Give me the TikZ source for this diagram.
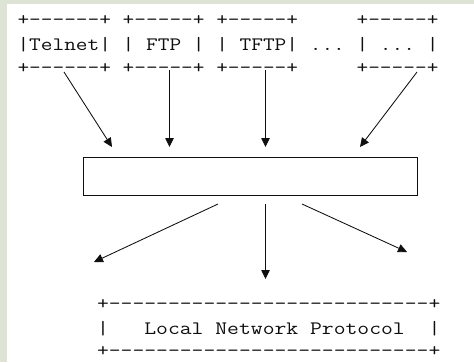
\documentclass[tikz,border=0pt]{standalone}
\usepackage{fontspec}
\usetikzlibrary{arrows.meta}
\definecolor{bgside}{RGB}{221,228,213}
\definecolor{ink}{RGB}{15,15,15}
\tikzset{
  asc/.style={anchor=base west, inner sep=0pt, outer sep=0pt, text=ink, transform shape},
  topfont/.style={font=\ttfamily\fontsize{19}{20}\selectfont, xscale=1.195},
  botfont/.style={font=\ttfamily\fontsize{19}{20}\selectfont, xscale=1.21},
  arr/.style={draw=ink, line width=0.85pt, -{Triangle[length=9pt,width=8.5pt]}},
  midbox/.style={draw=ink, line width=1pt, minimum width=334pt, minimum height=38pt, inner sep=0pt}
}
\begin{document}
\begin{tikzpicture}[x=1pt,y=-1pt]
\useasboundingbox (0,0) rectangle (474,362);
\fill[bgside] (0,0) rectangle (474,362);
\fill[white] (7,4) rectangle (474,362);

% top ASCII boxes
\node[asc,topfont] (t1) at (17.5,25.5) {+------+~+-----+~+-----+~~~~~+-----+};
\node[asc,topfont] (t2) at (17.5,50.6) {|Telnet|~|~FTP~|~|~TFTP|~...~|~...~|};
\node[asc,topfont] (t3) at (17.5,73.0) {+------+~+-----+~+-----+~~~~~+-----+};

% middle box
\node[midbox] (mid) at (250,176) {};

% bottom ASCII box
\node[asc,botfont] (b1) at (97,309.8) {+---------------------------+};
\node[asc,botfont] (b2) at (97,334.5) {|~~~Local~Network~Protocol~~|};
\node[asc,botfont] (b3) at (97,356.8) {+---------------------------+};

% arrow end points
\coordinate (s1) at (64,72);
\coordinate (s2) at (169.5,70);
\coordinate (s3) at (265.5,70);
\coordinate (s4) at (417,72);
\coordinate (e1) at (112,147);
\coordinate (e2) at (169.5,147);
\coordinate (e3) at (265.5,147);
\coordinate (e4) at (360,147);

\coordinate (u1) at (218,204);
\coordinate (u2) at (265.5,204);
\coordinate (u3) at (302,204);
\coordinate (d1) at (94,262);
\coordinate (d2) at (265.5,279);
\coordinate (d3) at (407,252);

\draw[arr] (s1) -- (e1);
\draw[arr] (s2) -- (e2);
\draw[arr] (s3) -- (e3);
\draw[arr] (s4) -- (e4);
\draw[arr] (u1) -- (d1);
\draw[arr] (u2) -- (d2);
\draw[arr] (u3) -- (d3);
\end{tikzpicture}
\end{document}
